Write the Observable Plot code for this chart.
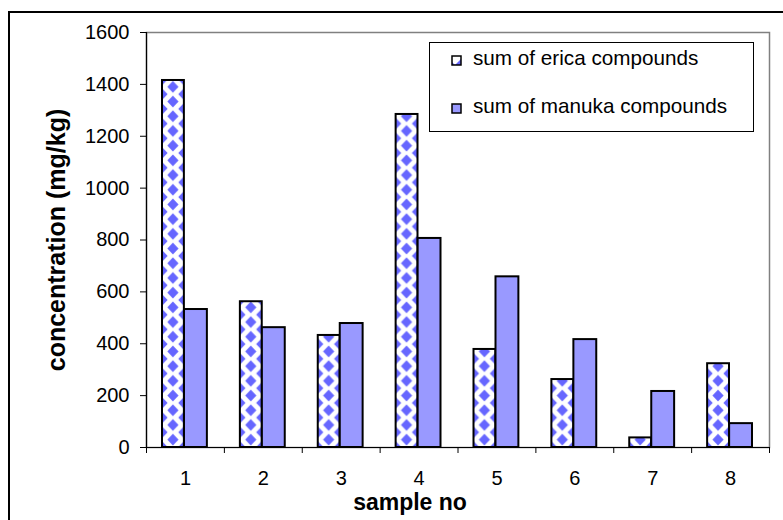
<!DOCTYPE html>
<html><head><meta charset="utf-8">
<script src="https://cdn.jsdelivr.net/npm/d3@7"></script>
<script src="https://cdn.jsdelivr.net/npm/@observablehq/plot@0.6"></script>
<style>
html,body{margin:0;padding:0;background:#fff;}
body{width:783px;height:520px;overflow:hidden;position:relative;font-family:"Liberation Sans",Arial,sans-serif;}
#chart{position:absolute;left:0;top:0;}
#outer{position:absolute;left:8px;top:11px;width:820px;height:620px;border:2px solid #000;pointer-events:none;}
#legend{position:absolute;left:429px;top:42px;width:323px;height:88px;border:1px solid #000;background:#fff;}
.item{position:absolute;left:21px;height:20px;line-height:20px;font-size:20.7px;color:#000;white-space:nowrap;}
.item svg{position:absolute;left:0;top:7px;}
.item span{position:absolute;left:22px;top:0;}
g[aria-label="y-axis label"] text{font-weight:bold;font-size:25px;}
</style></head>
<body>
<div id="chart"></div>
<div id="legend"></div>
<div id="outer"></div>
<script>
const samples = [1, 2, 3, 4, 5, 6, 7, 8];
const ericaValues = [1415, 562, 432, 1284, 378, 262, 37, 323];
const manukaValues = [532, 462, 478, 806, 658, 416, 216, 92];
const yTicks = [0, 200, 400, 600, 800, 1000, 1200, 1400, 1600];
const seriesNames = ["sum of erica compounds", "sum of manuka compounds"];
const xTitle = "sample no";
const yTitle = "concentration (mg/kg)";

const boundaries = samples.map(s => s - 0.5).concat([samples[samples.length - 1] + 0.5]);
const erica = samples.map((s, i) => ({sample: s, value: ericaValues[i]}));
const manuka = samples.map((s, i) => ({sample: s, value: manukaValues[i]}));

const SVGNS = "http://www.w3.org/2000/svg";
const dia = "#6666ff";
const ericaInsetL = 16, ericaInsetR = 40;

// a mark that only writes <defs>: one diamond pattern per erica bar, aligned to that bar
function patternDefs(index, scales) {
  const defs = document.createElementNS(SVGNS, "defs");
  for (const s of samples) {
    const x0 = scales.x(s - 0.5) + ericaInsetL;
    const x1 = scales.x(s + 0.5) - ericaInsetR;
    const w = x1 - x0, h = 14.7;
    const p = document.createElementNS(SVGNS, "pattern");
    p.setAttribute("id", "pe" + s);
    p.setAttribute("patternUnits", "userSpaceOnUse");
    p.setAttribute("x", x0);
    p.setAttribute("y", scales.y(0));
    p.setAttribute("width", w);
    p.setAttribute("height", h);
    const bg = document.createElementNS(SVGNS, "rect");
    bg.setAttribute("width", w); bg.setAttribute("height", h); bg.setAttribute("fill", "#fff");
    p.appendChild(bg);
    const rx = 5.6, ry = 6.0;
    for (const [cx, cy] of [[0, 0], [w, 0], [0, h], [w, h], [w / 2, h / 2]]) {
      const pg = document.createElementNS(SVGNS, "polygon");
      pg.setAttribute("fill", dia);
      pg.setAttribute("points", `${cx},${cy - ry} ${cx + rx},${cy} ${cx},${cy + ry} ${cx - rx},${cy}`);
      p.appendChild(pg);
    }
    defs.appendChild(p);
  }
  return defs;
}

const chart = Plot.plot({
  width: 783,
  height: 520,
  marginLeft: 146,
  marginRight: 14,
  marginTop: 32,
  marginBottom: 73,
  style: {fontFamily: "'Liberation Sans', Arial, sans-serif", fontSize: "20px", color: "#000", background: "transparent", overflow: "visible"},
  x: {type: "linear", domain: [0.5, 8.5]},
  y: {domain: [0, 1600]},
  color: {type: "identity"},
  marks: [
    patternDefs,
    Plot.frame({stroke: "#808080", strokeWidth: 1.5}),
    Plot.rectY(erica, {x1: d => d.sample - 0.5, x2: d => d.sample + 0.5, y: "value", insetLeft: ericaInsetL, insetRight: ericaInsetR,
      fill: d => `url(#pe${d.sample})`, stroke: "#000", strokeWidth: 2}),
    Plot.rectY(manuka, {x1: d => d.sample - 0.5, x2: d => d.sample + 0.5, y: "value", insetLeft: 38, insetRight: 17,
      fill: "#9999ff", stroke: "#000", strokeWidth: 2}),
    Plot.ruleX([0.5], {stroke: "#000", strokeWidth: 1.2}),
    Plot.ruleY([0], {stroke: "#000", strokeWidth: 1.2}),
    Plot.axisY({ticks: yTicks, tickSize: 6, tickPadding: 11, tickFormat: d => String(d),
      label: yTitle, labelAnchor: "center", labelOffset: 99, labelArrow: "none"}),
    Plot.axisX({ticks: samples, tickSize: 0, tickPadding: 23, tickFormat: d => String(d), label: null}),
    Plot.axisX({ticks: boundaries, tickSize: 6, tickFormat: () => "", label: null}),
    Plot.text([xTitle], {frameAnchor: "bottom", dx: -48, dy: 62, lineAnchor: "bottom", fontWeight: "bold", fontSize: 23})
  ]
});
document.getElementById("chart").appendChild(chart);

// legend
const legend = d3.select("#legend");
const items = [
  {name: seriesNames[0], top: 5, kind: "erica"},
  {name: seriesNames[1], top: 53, kind: "manuka"}
];
for (const it of items) {
  const div = legend.append("div").attr("class", "item").style("top", it.top + "px");
  const s = div.append("svg").attr("width", 11).attr("height", 11);
  if (it.kind === "erica") {
    s.append("rect").attr("x", 1).attr("y", 1).attr("width", 9).attr("height", 9).attr("fill", "#fff");
    s.append("polygon").attr("points", "10,4 10,10 4,10").attr("fill", dia);
    s.append("polygon").attr("points", "1,7 1,10 4,10").attr("fill", dia);
    s.append("rect").attr("x", 1).attr("y", 1).attr("width", 9).attr("height", 9).attr("fill", "none").attr("stroke", "#000").attr("stroke-width", 1.5);
  } else {
    s.append("rect").attr("x", 1).attr("y", 1).attr("width", 9).attr("height", 9).attr("fill", "#9999ff").attr("stroke", "#000").attr("stroke-width", 1.5);
  }
  div.append("span").text(it.name);
}
</script>
</body></html>
